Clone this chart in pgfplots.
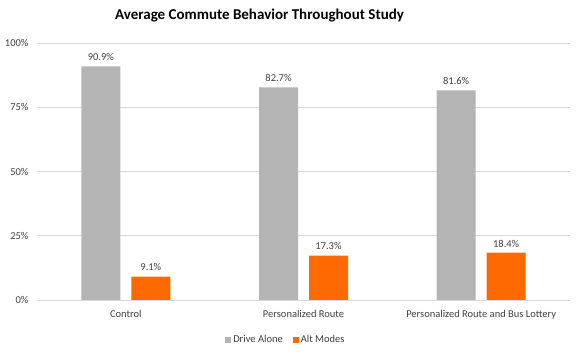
\documentclass[border=0pt]{standalone}
\usepackage{pgfplots}
\pgfplotsset{compat=1.18}
\usepackage{fontspec}
\setmainfont{Carlito}
\definecolor{barGray}{HTML}{B4B4B4}
\definecolor{barOrange}{HTML}{FF6A00}
\definecolor{gridGray}{HTML}{D9D9D9}
\definecolor{txtGray}{HTML}{404040}
\begin{document}
\begin{tikzpicture}
\useasboundingbox (-37pt,-55pt) rectangle (540pt,300pt);
\begin{axis}[
  scale only axis,
  width=533pt, height=257pt,
  at={(0pt,0pt)}, anchor=south west,
  ybar, bar width=39pt,
  xmin=-0.5, xmax=2.5, ymin=0, ymax=100,
  xtick=data,
  xticklabels={Control,Personalized Route,Personalized Route and Bus Lottery},
  ytick={0,25,50,75,100},
  yticklabel={\pgfmathprintnumber{\tick}\%},
  /pgf/number format/assume math mode=true,
  major tick length=0pt,
  axis line style={draw=none},
  ymajorgrids, grid style={gridGray, line width=0.8pt},
  tick label style={font=\fontsize{10.5}{12}\selectfont, text=txtGray},
  xticklabel style={yshift=-7pt},
  yticklabel style={xshift=-5pt},
  nodes near coords={\pgfmathprintnumber[fixed,precision=1,fixed zerofill]{\pgfplotspointmeta}\%},
  nodes near coords style={font=\fontsize{10.5}{12}\selectfont, text=txtGray, yshift=2pt},
  title={Average Commute Behavior Throughout Study},
  title style={font=\bfseries\fontsize{15}{18}\selectfont, at={(0.4175,1)}, anchor=center, yshift=21pt},
  legend style={draw=none, at={(0.467,-0.1556)}, anchor=center, legend columns=2,
    font=\fontsize{10.5}{12}\selectfont, text=txtGray,
    /tikz/every even column/.append style={column sep=8pt}},
  legend image code/.code={\fill[#1] (0pt,-3pt) rectangle (6pt,3pt);},
]
\addplot[fill=barGray, draw=none, bar shift=-25pt] coordinates {(0,90.9) (1,82.7) (2,81.6)};
\addplot[fill=barOrange, draw=none, bar shift=25pt] coordinates {(0,9.1) (1,17.3) (2,18.4)};
\legend{Drive Alone, Alt Modes}
\draw[gridGray, line width=0.8pt] (rel axis cs:0,0) -- (rel axis cs:1,0);
\end{axis}
\end{tikzpicture}
\end{document}
